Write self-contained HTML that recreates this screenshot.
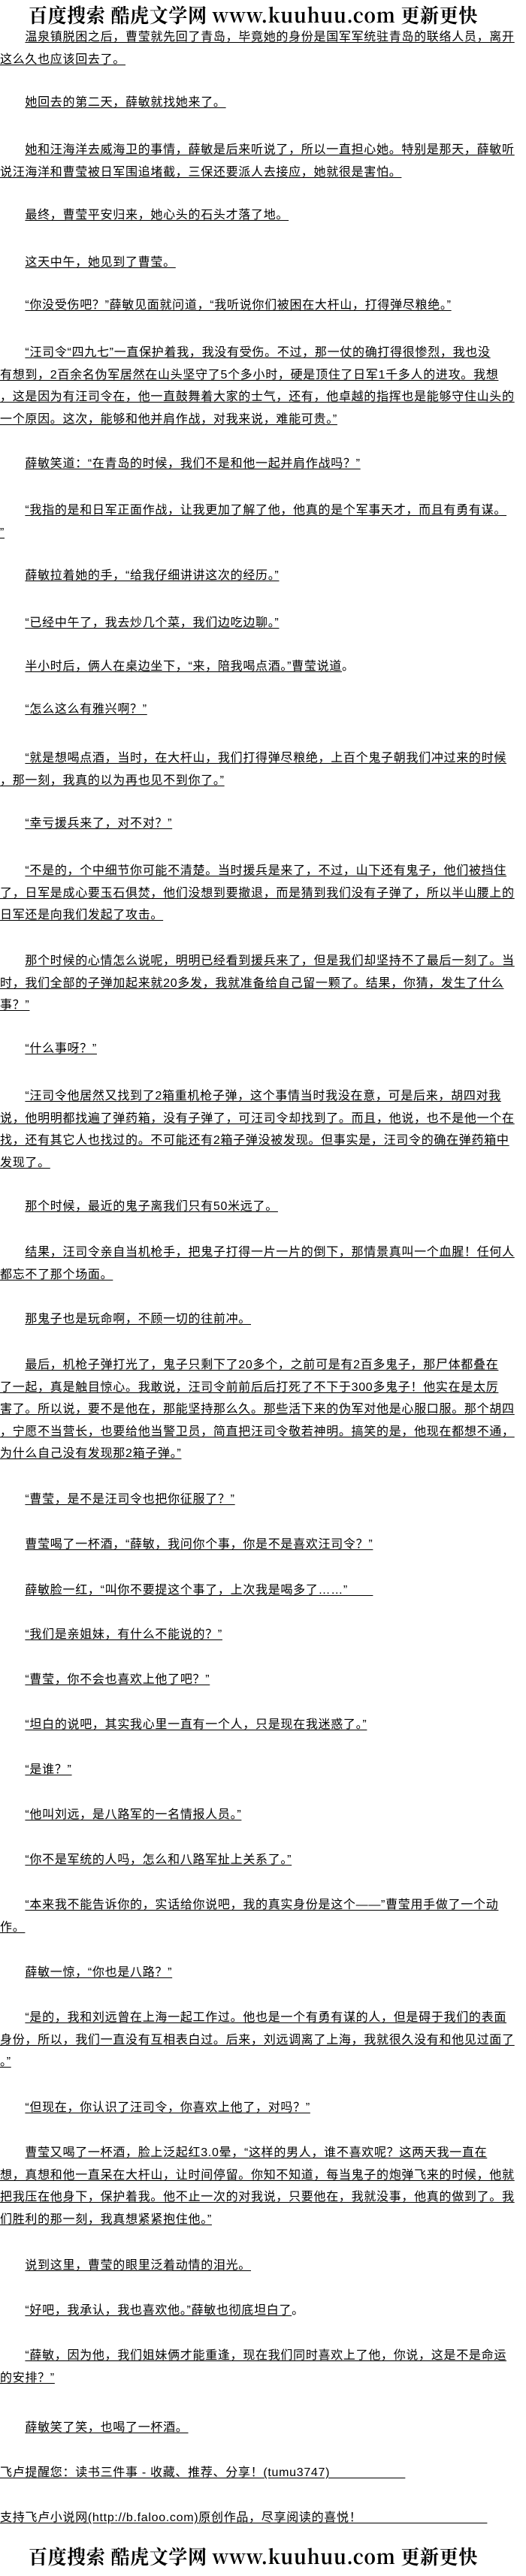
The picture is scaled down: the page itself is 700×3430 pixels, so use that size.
<!DOCTYPE html>
<html><head><meta charset="utf-8">
<style>
html,body{margin:0;padding:0;background:#fff;}
body{width:700px;height:3430px;position:relative;overflow:hidden;font-family:"Liberation Sans","Noto Sans CJK SC","WenQuanYi Zen Hei",sans-serif;font-size:16px;letter-spacing:0.7px;color:#000;}
.p{position:absolute;left:0;line-height:29.5px;white-space:nowrap;}
u{text-decoration:underline;text-underline-offset:2px;}
.logo{position:absolute;left:0;width:700px;height:34px;}
</style></head><body>
<svg class="logo" style="top:4px" width="700" height="34"><text x="38" y="26" textLength="598" lengthAdjust="spacingAndGlyphs" font-family="Noto Serif CJK SC,Liberation Serif,serif" font-weight="bold" font-size="26">百度搜索 酷虎文学网 www.kuuhuu.com 更新更快</text></svg>

<div class="p" style="top:35px">　　<u>温泉镇脱困之后，曹莹就先回了青岛，毕竟她的身份是国军军统驻青岛的联络人员，离开</u><br><u>这么久也应该回去了。</u></div>
<div class="p" style="top:122px">　　<u>她回去的第二天，薛敏就找她来了。</u></div>
<div class="p" style="top:185px">　　<u>她和汪海洋去威海卫的事情，薛敏是后来听说了，所以一直担心她。特别是那天，薛敏听</u><br><u>说汪海洋和曹莹被日军围追堵截，三保还要派人去接应，她就很是害怕。</u></div>
<div class="p" style="top:272px">　　<u>最终，曹莹平安归来，她心头的石头才落了地。</u></div>
<div class="p" style="top:335px">　　<u>这天中午，她见到了曹莹。</u></div>
<div class="p" style="top:392px">　　<u>“你没受伤吧？”薛敏见面就问道，“我听说你们被困在大杆山，打得弹尽粮绝。”</u></div>
<div class="p" style="top:455px">　　<u>“汪司令“四九七”一直保护着我，我没有受伤。不过，那一仗的确打得很惨烈，我也没</u><br><u>有想到，2百余名伪军居然在山头坚守了5个多小时，硬是顶住了日军1千多人的进攻。我想</u><br><u>，这是因为有汪司令在，他一直鼓舞着大家的士气，还有，他卓越的指挥也是能够守住山头的</u><br><u>一个原因。这次，能够和他并肩作战，对我来说，难能可贵。”</u></div>
<div class="p" style="top:603px">　　<u>薛敏笑道：“在青岛的时候，我们不是和他一起并肩作战吗？”</u></div>
<div class="p" style="top:665px">　　<u>“我指的是和日军正面作战，让我更加了解了他，他真的是个军事天才，而且有勇有谋。</u><br><u>”</u></div>
<div class="p" style="top:752px">　　<u>薛敏拉着她的手，“给我仔细讲讲这次的经历。”</u></div>
<div class="p" style="top:815px">　　<u>“已经中午了，我去炒几个菜，我们边吃边聊。”</u></div>
<div class="p" style="top:873px">　　<u>半小时后，俩人在桌边坐下，“来，陪我喝点酒。”曹莹说道</u>。</div>
<div class="p" style="top:930px">　　<u>“怎么这么有雅兴啊？”</u></div>
<div class="p" style="top:995px">　　<u>“就是想喝点酒，当时，在大杆山，我们打得弹尽粮绝，上百个鬼子朝我们冲过来的时候</u><br><u>，那一刻，我真的以为再也见不到你了。”</u></div>
<div class="p" style="top:1082px">　　<u>“幸亏援兵来了，对不对？”</u></div>
<div class="p" style="top:1145px">　　<u>“不是的，个中细节你可能不清楚。当时援兵是来了，不过，山下还有鬼子，他们被挡住</u><br><u>了，日军是成心要玉石俱焚，他们没想到要撤退，而是猜到我们没有子弹了，所以半山腰上的</u><br><u>日军还是向我们发起了攻击。</u></div>
<div class="p" style="top:1265px">　　<u>那个时候的心情怎么说呢，明明已经看到援兵来了，但是我们却坚持不了最后一刻了。当</u><br><u>时，我们全部的子弹加起来就20多发，我就准备给自己留一颗了。结果，你猜，发生了什么</u><br><u>事？”</u></div>
<div class="p" style="top:1382px">　　<u>“什么事呀？”</u></div>
<div class="p" style="top:1445px">　　<u>“汪司令他居然又找到了2箱重机枪子弹，这个事情当时我没在意，可是后来，胡四对我</u><br><u>说，他明明都找遍了弹药箱，没有子弹了，可汪司令却找到了。而且，他说，也不是他一个在</u><br><u>找，还有其它人也找过的。不可能还有2箱子弹没被发现。但事实是，汪司令的确在弹药箱中</u><br><u>发现了。</u></div>
<div class="p" style="top:1592px">　　<u>那个时候，最近的鬼子离我们只有50米远了。</u></div>
<div class="p" style="top:1653px">　　<u>结果，汪司令亲自当机枪手，把鬼子打得一片一片的倒下，那情景真叫一个血腥！任何人</u><br><u>都忘不了那个场面。</u></div>
<div class="p" style="top:1742px">　　<u>那鬼子也是玩命啊，不顾一切的往前冲。</u></div>
<div class="p" style="top:1803px">　　<u>最后，机枪子弹打光了，鬼子只剩下了20多个，之前可是有2百多鬼子，那尸体都叠在</u><br><u>了一起，真是触目惊心。我敢说，汪司令前前后后打死了不下于300多鬼子！他实在是太厉</u><br><u>害了。所以说，要不是他在，那能坚持那么久。那些活下来的伪军对他是心服口服。那个胡四</u><br><u>，宁愿不当营长，也要给他当警卫员，简直把汪司令敬若神明。搞笑的是，他现在都想不通，</u><br><u>为什么自己没有发现那2箱子弹。”</u></div>
<div class="p" style="top:1982px">　　<u>“曹莹，是不是汪司令也把你征服了？”</u></div>
<div class="p" style="top:2042px">　　<u>曹莹喝了一杯酒，“薛敏，我问你个事，你是不是喜欢汪司令？”</u></div>
<div class="p" style="top:2103px">　　<u>薛敏脸一红，“叫你不要提这个事了，上次我是喝多了……”　　</u></div>
<div class="p" style="top:2162px">　　<u>“我们是亲姐妹，有什么不能说的？”</u></div>
<div class="p" style="top:2222px">　　<u>“曹莹，你不会也喜欢上他了吧？”</u></div>
<div class="p" style="top:2282px">　　<u>“坦白的说吧，其实我心里一直有一个人，只是现在我迷惑了。”</u></div>
<div class="p" style="top:2342px">　　<u>“是谁？”</u></div>
<div class="p" style="top:2402px">　　<u>“他叫刘远，是八路军的一名情报人员。”</u></div>
<div class="p" style="top:2462px">　　<u>“你不是军统的人吗，怎么和八路军扯上关系了。”</u></div>
<div class="p" style="top:2522px">　　<u>“本来我不能告诉你的，实话给你说吧，我的真实身份是这个——”曹莹用手做了一个动</u><br><u>作。</u></div>
<div class="p" style="top:2612px">　　<u>薛敏一惊，“你也是八路？”</u></div>
<div class="p" style="top:2672px">　　<u>“是的，我和刘远曾在上海一起工作过。他也是一个有勇有谋的人，但是碍于我们的表面</u><br><u>身份，所以，我们一直没有互相表白过。后来，刘远调离了上海，我就很久没有和他见过面了</u><br><u>。”</u></div>
<div class="p" style="top:2792px">　　<u>“但现在，你认识了汪司令，你喜欢上他了，对吗？”</u></div>
<div class="p" style="top:2852px">　　<u>曹莹又喝了一杯酒，脸上泛起红3.0晕，“这样的男人，谁不喜欢呢？这两天我一直在</u><br><u>想，真想和他一直呆在大杆山，让时间停留。你知不知道，每当鬼子的炮弹飞来的时候，他就</u><br><u>把我压在他身下，保护着我。他不止一次的对我说，只要他在，我就没事，他真的做到了。我</u><br><u>们胜利的那一刻，我真想紧紧抱住他。”</u></div>
<div class="p" style="top:3002px">　　<u>说到这里，曹莹的眼里泛着动情的泪光。</u></div>
<div class="p" style="top:3062px">　　<u>“好吧，我承认，我也喜欢他。”薛敏也彻底坦白了</u>。</div>
<div class="p" style="top:3122px">　　<u>“薛敏，因为他，我们姐妹俩才能重逢，现在我们同时喜欢上了他，你说，这是不是命运</u><br><u>的安排？”</u></div>
<div class="p" style="top:3218px">　　<u>薛敏笑了笑，也喝了一杯酒。 </u></div>
<div class="p" style="top:3278px"><u>飞卢提醒您：读书三件事 - 收藏、推荐、分享！(tumu3747)　　　　　　</u></div>
<div class="p" style="top:3338px"><u>支持飞卢小说网(http://b.faloo.com)原创作品，尽享阅读的喜悦！　　　　　　　　　　</u></div>

<svg class="logo" style="top:3388px" width="700" height="34"><text x="38" y="26" textLength="598" lengthAdjust="spacingAndGlyphs" font-family="Noto Serif CJK SC,Liberation Serif,serif" font-weight="bold" font-size="26">百度搜索 酷虎文学网 www.kuuhuu.com 更新更快</text></svg>
</body></html>
